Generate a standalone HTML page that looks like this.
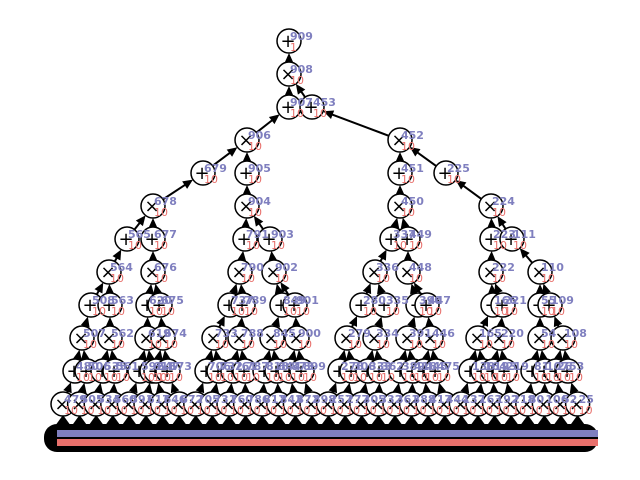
<!DOCTYPE html>
<html><head><meta charset="utf-8"><style>
body{margin:0;background:#fff;}
svg{display:block;}
</style></head><body>
<svg id="c" width="640" height="480"></svg>
<script>
const ids=["909","908","907","453","906","452","679","905","451","225","678","904","450","224","565","677","791","903","337","449","223","111","564","676","790","902","336","448","222","110","508","563","620","675","737","789","849","901","280","335","390","447","166","221","55","109","507","562","619","674","733","788","845","900","279","334","391","446","165","220","54","108"];
const ops=["+","×","+","+","×","×","+","+","+","+","×","×","×","×","+","+","+","+","+","+","+","+","×","×","×","×","×","×","×","×","+","+","+","+","+","+","+","+","+","+","+","+","+","+","+","+","×","×","×","×","×","×","×","×","×","×","×","×","×","×","×","×"];
const xs=[289,289,289,312,247,400,203,247,400,446,153,247,400,491,127,153,245,270,392,408,492,512,109,153,240,274,375,408,491,540,91,110,148,160,230,243,282,295,362,385,418,427,493,503,540,550,82,110,147,163,214,240,272,297,347,375,408,431,478,500,540,563];
const levels=[0,1,2,2,3,3,4,4,4,4,5,5,5,5,6,6,6,6,6,6,6,6,7,7,7,7,7,7,7,7,8,8,8,8,8,8,8,8,8,8,8,8,8,8,8,8,9,9,9,9,9,9,9,9,9,9,9,9,9,9,9,9];
const parents=[-1,0,1,1,2,3,4,4,5,5,6,7,8,9,10,10,11,11,12,12,13,13,14,15,16,17,18,19,20,21,22,22,23,23,24,24,25,25,26,26,27,27,28,28,29,29,30,31,32,33,34,35,36,37,38,39,40,41,42,43,44,45];
const weights=["1","10","10","10","10","10","10","10","10","10","10","10","10","10","10","10","10","10","10","10","10","10","10","10","10","10","10","10","10","10","10","10","10","10","10","10","10","10","10","10","10","10","10","10","10","10","10","10","10","10","10","10","10","10","10","10","10","10","10","10","10","10"];
const l10Labels=["480","506","535","561","592","618","647","673","706","732","761","787","818","844","873","899","278","306","333","362","389","418","445","475","138","164","193","219","81","107","26","53"];
const l11Labels=["479","505","534","560","591","617","646","672","705","731","760","786","817","843","872","898","257","277","305","332","361","388","417","444","137","163","192","218","80","106","52","25"];
const svg=document.getElementById('c');const NS='http://www.w3.org/2000/svg';
function mk(t,a,p){const e=document.createElementNS(NS,t);for(const k in a)e.setAttribute(k,a[k]);(p||svg).appendChild(e);return e;}
const yOf=l=>41+33*l;
let N=[];
for(let i=0;i<ids.length;i++)N.push({x:xs[i],y:yOf(levels[i]),op:ops[i],lab:ids[i],w:weights[i],p:parents[i]});
const l9start=46;
for(let k=0;k<32;k++){const par=l9start+Math.floor(k/2);const x=xs[par]+(k%2?5:-7);N.push({x:x,y:yOf(10),op:"+",lab:l10Labels[k],w:"10",p:par});}
const l10start=ids.length;
for(let k=0;k<32;k++){const x=63+k*16.6;N.push({x:x,y:yOf(11),op:"×",lab:l11Labels[k],w:"10",p:l10start+k});}
const gE=mk('g',{});
const R=12;
function arrow(x1,y1,x2,y2){const dx=x2-x1,dy=y2-y1,d=Math.hypot(dx,dy)||1,ux=dx/d,uy=dy/d;
 const sx=x1+ux*R,sy=y1+uy*R,ex=x2-ux*R,ey=y2-uy*R;
 const l=mk('line',{x1:sx,y1:sy,x2:ex-ux*6,y2:ey-uy*6,stroke:'#000','stroke-width':2},gE);
 
 const bx=ex-ux*10,by=ey-uy*10,px=-uy*4.5,py=ux*4.5;
 const a=mk('polygon',{points:`${ex},${ey} ${bx+px},${by+py} ${bx-px},${by-py}`,fill:'#000'},gE);
 }
N.forEach(n=>{if(n.p>=0){const p=N[n.p];arrow(n.x,n.y,p.x,p.y);}});
const gB=mk('g',{});
mk('rect',{x:44,y:424,width:554,height:28,rx:13,fill:'#000'},gB);
for(let k=0;k<32;k++){const x=63+k*16.6;
 const t=mk('polygon',{points:`${x},${yOf(11)+11} ${x-8},${426} ${x+8},${426}`,fill:'#000'},gB);
 }
const bb=mk('rect',{x:57,y:430,width:541,height:7,fill:'#7f7fbf'},gB);

const rb=mk('rect',{x:57,y:439,width:541,height:7,fill:'#e8706c'},gB);

const gN=mk('g',{});
const gL=mk('g',{});
const FF='DejaVu Sans, Liberation Sans, sans-serif';
N.forEach(n=>{
 const g=mk('g',{},gN);
 mk('circle',{cx:n.x,cy:n.y,r:R,fill:'#fff',stroke:'#000','stroke-width':1.5},g);
 const t=mk('text',{x:n.x-1,y:n.y+6,'text-anchor':'middle','font-size':'18','font-family':FF,fill:'#000'},g);t.textContent=n.op;
 const a=mk('text',{x:n.x+1,y:n.y-1,'font-size':'11','font-weight':'bold','font-family':FF,fill:'#7f7fbf'},gL);a.textContent=n.lab;
 
 const b=mk('text',{x:n.x+1,y:n.y+10,'font-size':'11','font-family':FF,fill:'#e8706c'},gL);b.textContent=n.w;
 
});
</script></body></html>
